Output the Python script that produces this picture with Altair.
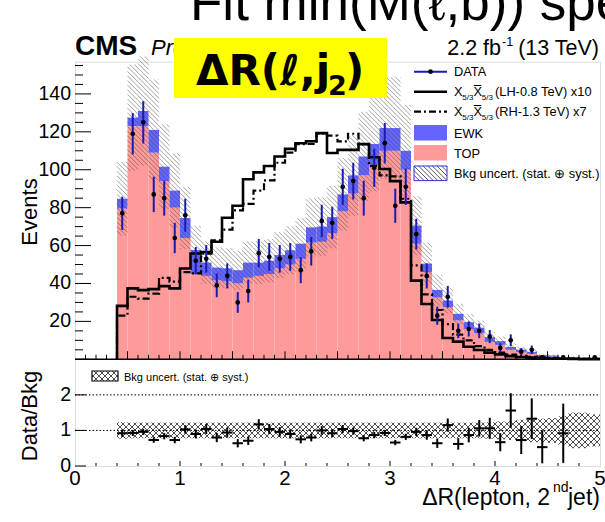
import altair as alt
import pandas as pd
import numpy as np

# ---------------- data ----------------
BIN_LO = [0.4, 0.5, 0.6, 0.7, 0.8, 0.9, 1.0, 1.1, 1.2, 1.3, 1.4, 1.5, 1.6, 1.7, 1.8, 1.9,
          2.0, 2.1, 2.2, 2.3, 2.4, 2.5, 2.6, 2.7, 2.8, 2.9, 3.0, 3.1, 3.2, 3.3, 3.4, 3.5,
          3.6, 3.7, 3.8, 3.9, 4.0, 4.1, 4.2, 4.3, 4.4, 4.5, 4.6, 4.7, 4.8, 4.9]
BIN_W = 0.1

TOP = [79.5, 123, 123, 109, 94, 80, 64, 45, 44, 41.6, 41, 40, 43, 44, 45, 48,
       50, 53, 61.6, 62, 66.5, 78, 87.5, 97, 102.6, 110, 110, 100, 61, 46, 32.6, 27.5,
       20.5, 16, 13.7, 9.2, 7.6, 5.0, 3.9, 2.9, 1.5, 1.4, 0.8, 0.7, 0.6, 0.4]
EWK = [5.2, 4.5, 8, 12, 7.6, 9, 10.5, 12.7, 7, 6.8, 7, 7, 8, 7, 7, 7,
       7.5, 8, 8, 8, 8.5, 9, 9.5, 10, 11, 12, 12, 10, 9.5, 4.5, 4, 3.5,
       3.5, 3.6, 3, 2.5, 2, 1.5, 1.2, 1, 0.7, 0.6, 0.4, 0.3, 0.2, 0.2]
DATA = [77, 119, 125, 87, 85, 64, 76, 52, 53, 39, 44, 30, 36, 56, 54, 53,
        54, 47, 57, 73, 72, 91, 94, 85, 101, 114, 81, 91, 66, 44, 23, 33,
        15, 16, 15, 12, 6, 10, 4, 5, 1, 0, 1, 0, 0, 1]
SIG_LH = [28.2, 37.4, 36.5, 37, 38.6, 37.4, 47.9, 55.8, 56.6, 62, 74.7, 81, 95, 98.6, 102, 107,
          111, 114, 115, 119.3, 108.8, 110.5, 110.5, 113.5, 106.6, 100.4, 94, 82.8, 41.5, 29.2, 20.7, 11.2,
          9.3, 6.6, 4.9, 3.5, 2.6, 1.7, 1.2, 0.9, 0.6, 0.4, 0.3, 0.2, 0.1, 0.1]
SIG_RH = [23, 33, 32, 34.7, 43, 41, 46, 45.3, 55.8, 62.8, 68.4, 78.6, 82, 89, 94.4, 103.7,
          109, 113.5, 113.6, 119, 118, 115, 119, 113.5, 102, 97, 96.5, 84.7, 49.6, 34.3, 26, 18.6,
          13, 10, 7, 5, 3.5, 2.5, 1.8, 1.3, 1.0, 0.7, 0.5, 0.4, 0.3, 0.2]
RATIO = [0.92, 0.93, 0.96, 0.73, 0.84, 0.73, 1.03, 0.90, 1.04, 0.80, 0.94, 0.64, 0.71, 1.17, 1.04, 0.96,
         0.90, 0.75, 0.80, 1.00, 0.92, 1.04, 0.98, 0.78, 0.87, 0.93, 0.66, 0.82, 0.96, 0.87, 0.64, 1.15,
         0.62, 0.87, 1.06, 1.06, 0.67, 1.56, 0.73, 1.33, 0.53, None, 0.92, None, None, None]
REL_UNC = [0.23, 0.22, 0.22, 0.22, 0.22, 0.22, 0.22, 0.22, 0.22, 0.22, 0.22, 0.22, 0.22, 0.22, 0.22, 0.22,
           0.22, 0.22, 0.22, 0.22, 0.22, 0.22, 0.22, 0.22, 0.22, 0.22, 0.22, 0.22, 0.22, 0.22, 0.22, 0.22,
           0.22, 0.22, 0.22, 0.23, 0.25, 0.27, 0.30, 0.33, 0.33, 0.35, 0.40, 0.50, 0.50, 0.45]

X_TICK_LABELS = [0, 1, 2, 3, 4, 5]
Y_TICK_LABELS = [20, 40, 60, 80, 100, 120, 140]
R_TICK_LABELS = [0, 1, 2]

# ---------------- layout ----------------
OX, OY = 75.0, 61.7
W = 525.0
H_UP = 297.6
H_LO = 106.7
H = H_UP + H_LO
XMAX = 5.0
YMAX = 157.0
RMAX = 3.0
FONT = "Liberation Sans"

PINK = "#ff9a9a"
BLUE = "#6464ff"
DBLUE = "#1a1ab4"

xsc = alt.Scale(domain=[0, XMAX], nice=False, zero=False)
yup = alt.Scale(domain=[0, YMAX], range=[H_UP, 0], nice=False, zero=False)
ylo = alt.Scale(domain=[0, RMAX], range=[H, H_UP], nice=False, zero=False)

lo = np.array(BIN_LO)
df = pd.DataFrame({"lo": lo, "hi": lo + BIN_W, "c": lo + BIN_W / 2,
                   "top": TOP, "ewk": EWK, "data": DATA, "rel": REL_UNC})
df["tot"] = df["top"] + df["ewk"]
df["zero"] = 0.0


def hatch(rects, kx, ky, spacing, direction):
    segs = []
    for (x0, x1, y0, y1) in rects:
        X0, X1, Y0, Y1 = x0 * kx, x1 * kx, y0 * ky, y1 * ky
        if direction == "back":
            cmin, cmax = X0 + Y0, X1 + Y1
        else:
            cmin, cmax = X0 - Y1, X1 - Y0
        for k in range(int(np.ceil(cmin / spacing)), int(np.floor(cmax / spacing)) + 1):
            c = k * spacing
            if direction == "back":
                xs, xe = max(X0, c - Y1), min(X1, c - Y0)
                if xe > xs:
                    segs.append((xs / kx, (c - xs) / ky, xe / kx, (c - xe) / ky))
            else:
                xs, xe = max(X0, c + Y0), min(X1, c + Y1)
                if xe > xs:
                    segs.append((xs / kx, (xs - c) / ky, xe / kx, (xe - c) / ky))
    return pd.DataFrame(segs, columns=["x", "y", "x2", "y2"])


kx = W / XMAX
band_rects = [(r.lo, r.hi, r.tot * (1 - r.rel), r.tot * (1 + r.rel)) for r in df.itertuples()]
hatch_up = hatch(band_rects, kx, H_UP / YMAX, 4.6, "back")
ratio_rects = [(r.lo, r.hi, 1 - r.rel, 1 + r.rel) for r in df.itertuples()]
hatch_lo = pd.concat([hatch(ratio_rects, kx, H_LO / RMAX, 6.0, "back"),
                      hatch(ratio_rects, kx, H_LO / RMAX, 6.0, "fwd")])


def step_df(vals):
    xs = [BIN_LO[0]] + BIN_LO + [XMAX]
    ys = [0.0] + list(vals) + [vals[-1]]
    return pd.DataFrame({"x": xs, "v": ys, "i": range(len(xs))})


dd = df[df["data"] > 0].copy()
dd["elo"] = dd["data"] - np.sqrt(dd["data"])
dd["ehi"] = dd["data"] + np.sqrt(dd["data"])

rr = df.copy()
rr["r"] = RATIO
rr = rr.dropna(subset=["r"])
rr["re"] = np.sqrt(rr["data"]) / rr["tot"]
rr["rlo"] = (rr["r"] - rr["re"]).clip(lower=0)
rr["rhi"] = (rr["r"] + rr["re"]).clip(upper=RMAX)


def txt(s, x, y, size, weight="normal", style="normal", align="left",
        baseline="alphabetic", angle=0, font=FONT, color="black"):
    return alt.Chart(pd.DataFrame({"t": [s]})).mark_text(
        font=font, fontSize=size, fontWeight=weight, fontStyle=style, align=align,
        baseline=baseline, angle=angle, color=color
    ).encode(x=alt.value(x - OX), y=alt.value(y - OY), text="t:N")


def hatch_path(hw, hh, s, cross=False):
    parts = []
    dirs = ["back", "fwd"] if cross else ["back"]
    for d in dirs:
        seg = hatch([(-hw, hw, -hh, hh)], 1.0, 1.0, s, d)
        for r in seg.itertuples():
            parts.append(f"M{r.x:.3f},{-r.y:.3f}L{r.x2:.3f},{-r.y2:.3f}")
    return "".join(parts)


def patch_hatch(cx, cy, wpx, hpx, spx, color, cross=False, sw=1.0):
    u = wpx / 2.0
    path = hatch_path(1.0, hpx / wpx, spx / u, cross)
    return alt.Chart(pd.DataFrame({"a": [0]})).mark_point(
        shape=path, size=wpx * wpx, filled=False, stroke=color, strokeWidth=sw, opacity=1
    ).encode(x=alt.value(cx - OX), y=alt.value(cy - OY))


def box(x0, x1, y0, y1, fill=None, stroke=None, sw=1.0):
    kw = dict(fill=fill if fill else "transparent")
    if stroke:
        kw.update(stroke=stroke, strokeWidth=sw)
    return alt.Chart(pd.DataFrame({"a": [0]})).mark_rect(**kw).encode(
        x=alt.value(x0 - OX), x2=alt.value(x1 - OX), y=alt.value(y0 - OY), y2=alt.value(y1 - OY))


def hline(x0, x1, y, color="black", sw=1.0, dash=None):
    kw = dict(color=color, strokeWidth=sw)
    if dash:
        kw["strokeDash"] = dash
    return alt.Chart(pd.DataFrame({"a": [0]})).mark_rule(**kw).encode(
        x=alt.value(x0 - OX), x2=alt.value(x1 - OX), y=alt.value(y - OY))


# ---------------- upper panel ----------------
top_bars = alt.Chart(df).mark_rect(color=PINK).encode(
    x=alt.X("lo:Q", scale=xsc, axis=None), x2="hi:Q",
    y=alt.Y("top:Q", scale=yup, axis=None), y2="zero:Q")
ewk_bars = alt.Chart(df).mark_rect(color=BLUE).encode(
    x=alt.X("lo:Q", axis=None), x2="hi:Q", y=alt.Y("tot:Q", axis=None), y2="top:Q")
band_up = alt.Chart(hatch_up).mark_rule(color="#444444", opacity=0.5, strokeWidth=1).encode(
    x=alt.X("x:Q", axis=None), y=alt.Y("y:Q", axis=None), x2="x2:Q", y2="y2:Q")
lh_line = alt.Chart(step_df(SIG_LH)).mark_line(interpolate="step-after", color="black", strokeWidth=2.6).encode(
    x=alt.X("x:Q", axis=None), y=alt.Y("v:Q", axis=None), order="i:Q")
rh_line = alt.Chart(step_df(SIG_RH)).mark_line(interpolate="step-after", color="black", strokeWidth=2.2,
                                               strokeDash=[7, 3, 2, 3]).encode(
    x=alt.X("x:Q", axis=None), y=alt.Y("v:Q", axis=None), order="i:Q")
data_err = alt.Chart(dd).mark_rule(color=DBLUE, strokeWidth=2).encode(
    x=alt.X("c:Q", axis=None), y=alt.Y("elo:Q", axis=None), y2="ehi:Q")
data_pts = alt.Chart(dd).mark_circle(color="black", size=22, opacity=1).encode(
    x=alt.X("c:Q", axis=None), y=alt.Y("data:Q", axis=None))

yt_major = pd.DataFrame({"v": [0, 20, 40, 60, 80, 100, 120, 140]})
yt_minor = pd.DataFrame({"v": [v for v in range(5, 157, 5) if v % 20 != 0]})
xt_up_major = pd.DataFrame({"v": [0.5, 1.0, 1.5, 2.0, 2.5, 3.0, 3.5, 4.0, 4.5]})
xt_up_minor = pd.DataFrame({"v": [round(0.1 * i, 1) for i in range(1, 50) if i % 5 != 0]})


def yticks(d, length):
    return alt.Chart(d).mark_rule(color="black", strokeWidth=1).encode(
        y=alt.Y("v:Q", axis=None), x=alt.value(0), x2=alt.value(length))


def xticks(d, ypix, length):
    return alt.Chart(d).mark_rule(color="black", strokeWidth=1).encode(
        x=alt.X("v:Q", axis=None), y=alt.value(ypix), y2=alt.value(ypix - length))


def ylabels(vals, size):
    return alt.Chart(pd.DataFrame({"v": vals})).mark_text(
        font=FONT, fontSize=size, align="right", baseline="middle", color="black"
    ).encode(y=alt.Y("v:Q", axis=None), x=alt.value(-4), text="v:Q")


sep_line = alt.Chart(pd.DataFrame({"v": [0]})).mark_rule(color="black", strokeWidth=1.6).encode(
    y=alt.Y("v:Q", axis=None), x=alt.value(0), x2=alt.value(W))

header = [
    txt("Fit min(M(\u2113,b)) spectrum", 190, 20, 53),
    txt("CMS", 75, 55, 28, weight="bold"),
    txt("Preliminary", 151, 55, 22, style="italic"),
    txt("2.2 fb", 501, 55, 21.5, align="right"),
    txt("-1", 502, 46, 12.5),
    txt("(13 TeV)", 599, 55, 21.5, align="right"),
    box(174, 387, 38, 98, fill="#ffff00"),
    txt("\u0394R(\u2113,j", 196, 85, 42, weight="bold", font="DejaVu Sans"),
    txt("2", 328, 95, 27, weight="bold", font="DejaVu Sans"),
    txt(")", 345, 85, 42, weight="bold", font="DejaVu Sans"),
    txt("Events", 30, 212, 22, angle=270, align="center", baseline="middle"),
    txt("Data/Bkg", 30, 416, 22, angle=270, align="center", baseline="middle"),
    txt("\u0394R(lepton, 2", 550, 505, 23, align="right"),
    txt("nd", 553, 492, 14),
    txt("jet)", 568, 505, 23),
]

LX0, LX1, TX = 414, 447, 454
FS = 12.8
leg = [
    hline(LX0, LX1, 71.7, color=DBLUE, sw=2),
    alt.Chart(pd.DataFrame({"a": [0]})).mark_circle(color="black", size=22, opacity=1).encode(
        x=alt.value((LX0 + LX1) / 2 - OX), y=alt.value(71.7 - OY)),
    txt("DATA", TX, 76.3, FS),
    hline(LX0, LX1, 91.7, sw=2.6),
    hline(LX0, LX1, 111.7, sw=2.2, dash=[7, 3, 2, 3]),
    box(LX0, LX1, 125, 140.5, fill=BLUE),
    txt("EWK", TX, 137.5, FS),
    box(LX0, LX1, 145, 160.5, fill=PINK),
    txt("TOP", TX, 157.5, FS),
    patch_hatch((LX0 + LX1) / 2, 173.3, LX1 - LX0, 14.5, 4.6, "#555555", sw=1),
    box(LX0, LX1, 166, 180.6, stroke="#3030d0", sw=1),
    txt("Bkg uncert. (stat. \u2295 syst.)", TX, 178, FS),
]
for yrow, lab in [(91.7, "(LH-0.8 TeV) x10"), (111.7, "(RH-1.3 TeV) x7")]:
    leg += [
        txt("X", TX, yrow + 4.6, FS),
        txt("5/3", TX + 8.3, yrow + 7.8, 8),
        txt("X", TX + 19.5, yrow + 4.6, FS),
        hline(TX + 19.8, TX + 27.3, yrow - 6.2, sw=1),
        txt("5/3", TX + 27.8, yrow + 7.8, 8),
        txt(lab, TX + 41, yrow + 4.6, FS),
    ]

upper = alt.layer(top_bars, ewk_bars, band_up, lh_line, rh_line, data_err, data_pts,
                  yticks(yt_major, 16), yticks(yt_minor, 8),
                  xticks(xt_up_major, H_UP, 8), xticks(xt_up_minor, H_UP, 4.5),
                  ylabels(Y_TICK_LABELS, 19.5),
                  sep_line, *header, *leg)

# ---------------- lower panel ----------------
band_lo = alt.Chart(hatch_lo).mark_rule(color="#222222", strokeWidth=0.8).encode(
    x=alt.X("x:Q", axis=None), y=alt.Y("y:Q", scale=ylo, axis=None), x2="x2:Q", y2="y2:Q")
grid_lo = alt.Chart(pd.DataFrame({"v": [1, 2]})).mark_rule(color="black", strokeWidth=1,
                                                           strokeDash=[1.5, 2]).encode(
    y=alt.Y("v:Q", axis=None), x=alt.value(0), x2=alt.value(W))
r_vert = alt.Chart(rr).mark_rule(color="black", strokeWidth=2).encode(
    x=alt.X("c:Q", axis=None), y=alt.Y("rlo:Q", axis=None), y2="rhi:Q")
r_hor = alt.Chart(rr).mark_rule(color="black", strokeWidth=2).encode(
    x=alt.X("lo:Q", axis=None), x2="hi:Q", y=alt.Y("r:Q", axis=None))
rt_major = pd.DataFrame({"v": [0, 1, 2]})
xt_lo_major = pd.DataFrame({"v": [1, 2, 3, 4]})
xt_lo_minor = pd.DataFrame({"v": [round(0.2 * i, 1) for i in range(1, 25) if i % 5 != 0]})
xlabels = alt.Chart(pd.DataFrame({"v": X_TICK_LABELS})).mark_text(
    font=FONT, fontSize=20.5, align="center", baseline="top", color="black"
).encode(x=alt.X("v:Q", axis=None), y=alt.value(H + 3), text="v:Q")

lower_leg = [
    patch_hatch(105, 376, 26, 10, 6.0, "#222222", cross=True, sw=0.8),
    box(92, 118, 371, 381, stroke="black", sw=1.2),
    txt("Bkg uncert. (stat. \u2295 syst.)", 124, 380.5, 11),
]

lower = alt.layer(band_lo, grid_lo, r_vert, r_hor,
                  yticks(rt_major, 11),
                  xticks(xt_lo_major, H, 5), xticks(xt_lo_minor, H, 3),
                  ylabels(R_TICK_LABELS, 19.5), xlabels,
                  *lower_leg)

chart = alt.layer(upper, lower).resolve_scale(y="independent").properties(
    width=W, height=H,
    autosize=alt.AutoSizeParams(type="none"),
    padding={"left": OX, "top": OY, "right": 605 - OX - W, "bottom": 522 - OY - H},
).configure_view(stroke="black", strokeWidth=1.6).configure(background="white")

chart.save("out.html", embed_options={"renderer": "svg", "actions": False})
